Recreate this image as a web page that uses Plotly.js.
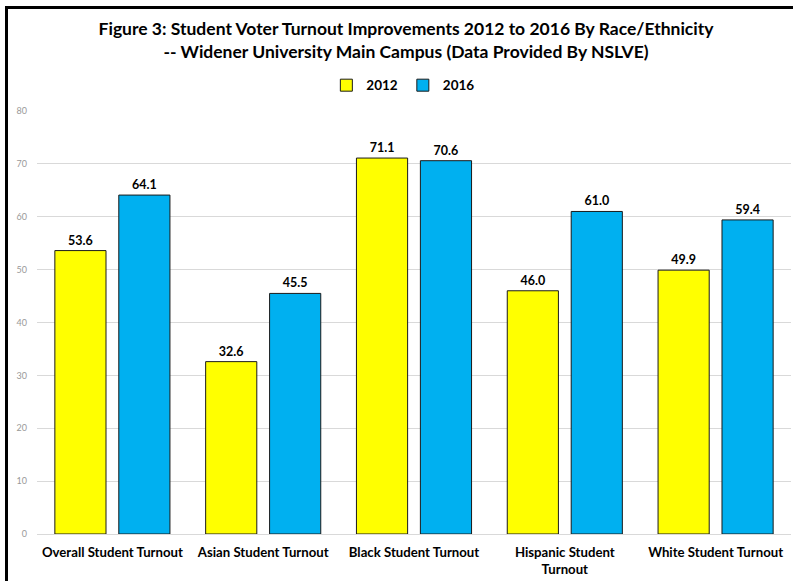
<!DOCTYPE html>
<html>
<head>
<meta charset="utf-8">
<script src="https://cdn.plot.ly/plotly-3.0.1.min.js"></script>
<style>
html,body{margin:0;padding:0;background:#fff;}
#chart{width:793px;height:581px;}
#frame{position:absolute;left:5px;top:6px;width:790px;height:580px;border-left:3px solid #000;border-top:3px solid #000;pointer-events:none;}
</style>
</head>
<body>
<div id="chart"></div>
<div id="frame"></div>
<script>
const categories = ["Overall Student Turnout", "Asian Student Turnout", "Black Student Turnout", "Hispanic Student<br>Turnout", "White Student Turnout"];
const values2012 = [53.6, 32.6, 71.1, 46.0, 49.9];
const values2016 = [64.1, 45.5, 70.6, 61.0, 59.4];
const seriesNames = ["2012", "2016"];
const yTicks = [0, 10, 20, 30, 40, 50, 60, 70, 80];

const font = "Lato, 'Open Sans', sans-serif";
const mk = (vals, name, color) => ({
  type: "bar", x: categories, y: vals, name: name,
  marker: {color: color, line: {color: "#1a1a1a", width: 1}},
  text: vals.map(v => v.toFixed(1)), textposition: "outside",
  textfont: {family: font, size: 12.5, color: "#000", weight: "bold"},
  cliponaxis: false
});
const data = [mk(values2012, seriesNames[0], "#FFFF00"), mk(values2016, seriesNames[1], "#00B0F0")];
const layout = {
  width: 793, height: 581,
  margin: {l: 37, r: 2, t: 111, b: 47},
  paper_bgcolor: "#fff", plot_bgcolor: "#fff",
  barmode: "group", bargap: 0.152, bargroupgap: 0.2,
  title: {text: "<b>Figure 3: Student Voter Turnout Improvements 2012 to 2016 By Race/Ethnicity<br>-- Widener University Main Campus (Data Provided By NSLVE)</b>",
    x: 0.512, xref: "container", xanchor: "center", y: 0.94, yref: "container", yanchor: "middle",
    font: {family: font, size: 17.5, color: "#000"}},
  showlegend: true,
  legend: {orientation: "h", x: 0.508, xref: "container", xanchor: "center", y: 0.853, yref: "container", yanchor: "middle",
    font: {family: font, size: 13.5, color: "#000", weight: "bold"}, itemwidth: 30, traceorder: "normal"},
  xaxis: {tickfont: {family: font, size: 13.2, color: "#000", weight: "bold"}, showgrid: false, showline: false, ticks: "", ticklabelstandoff: 9, automargin: false},
  yaxis: {range: [0, 80], tickvals: yTicks, showgrid: true, gridcolor: "#d9d9d9", gridwidth: 1,
    zeroline: true, zerolinecolor: "#d9d9d9", showline: false, ticks: "",
    tickfont: {family: font, size: 9, color: "#999"}, ticklabelstandoff: 9, automargin: false}
};
Plotly.newPlot("chart", data, layout, {displayModeBar: false, staticPlot: true});
</script>
</body>
</html>
